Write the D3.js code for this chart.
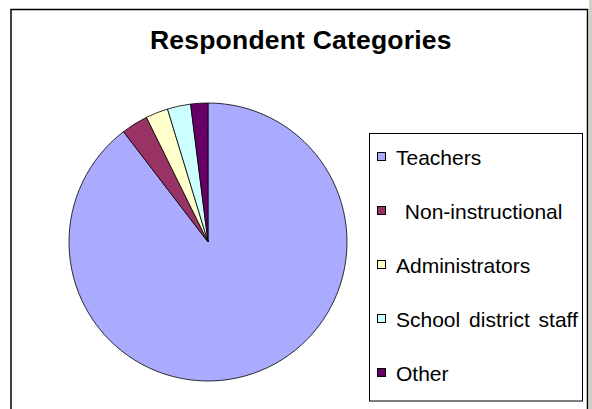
<!DOCTYPE html>
<html>
<head>
<meta charset="utf-8">
<script src="https://cdn.jsdelivr.net/npm/d3@7"></script>
<style>
  html, body { margin: 0; padding: 0; background: #fff; }
  svg { display: block; }
</style>
</head>
<body>
<svg id="chart" width="592" height="409"></svg>
<script>
// Respondent categories (share of respondents, %)
const categories = ["Teachers", " Non-instructional", "Administrators", "School district staff", "Other"];
const shares = [89.6, 3.1, 2.6, 2.7, 2.0];
const colors = ["#aaaaff", "#993366", "#ffffcc", "#ccffff", "#660066"];

const svg = d3.select("#chart");
const W = 592, H = 409;

// chart area frame
svg.append("rect").attr("x", 0).attr("y", 0).attr("width", W).attr("height", H).attr("fill", "#fff");
svg.append("rect").attr("x", 589).attr("y", 0).attr("width", 3).attr("height", H).attr("fill", "#d4d0c8");
svg.append("path")
  .attr("d", "M11,420 V9.5 H587.5 V420")
  .attr("fill", "none").attr("stroke", "#000").attr("stroke-width", 1.5);

// title
svg.append("text")
  .attr("x", 150).attr("y", 49)
  .attr("font-family", "Liberation Sans, Arial, sans-serif")
  .attr("font-weight", "bold")
  .attr("font-size", 26.5)
  .attr("letter-spacing", 0.2)
  .attr("fill", "#000")
  .text("Respondent Categories");

// pie
const cx = 208, cy = 242, r = 139;
const pie = d3.pie().sort(null).value(d => d.v);
const data = categories.map((c, i) => ({ name: c, v: shares[i], color: colors[i] }));
const arc = d3.arc().innerRadius(0).outerRadius(r);

svg.append("g")
  .attr("transform", `translate(${cx},${cy})`)
  .selectAll("path")
  .data(pie(data))
  .join("path")
  .attr("d", arc)
  .attr("fill", d => d.data.color)
  .attr("stroke", "#000")
  .attr("stroke-width", 0.8)
  .attr("stroke-linejoin", "round");

// legend
const lg = svg.append("g");
lg.append("rect")
  .attr("x", 369.5).attr("y", 133.5).attr("width", 213).attr("height", 267.5)
  .attr("fill", "#fff").attr("stroke", "#000").attr("stroke-width", 1);
lg.append("line")
  .attr("x1", 370).attr("x2", 583).attr("y1", 401.5).attr("y2", 401.5)
  .attr("stroke", "#777").attr("stroke-width", 1);

const ly = d3.scalePoint().domain(categories).range([157, 373]);
const items = lg.selectAll("g.item").data(data).join("g").attr("class", "item")
  .attr("transform", d => `translate(0,${ly(d.name)})`);
items.append("rect")
  .attr("x", 377.5).attr("y", -4.5).attr("width", 8).attr("height", 8)
  .attr("fill", d => d.color).attr("stroke", "#000").attr("stroke-width", 1);
items.append("text")
  .attr("x", 396).attr("y", 7.5)
  .attr("font-family", "Liberation Sans, Arial, sans-serif")
  .attr("font-size", 21)
  .attr("word-spacing", 3)
  .attr("fill", "#000")
  .attr("xml:space", "preserve")
  .style("white-space", "pre")
  .text(d => d.name);
</script>
</body>
</html>
